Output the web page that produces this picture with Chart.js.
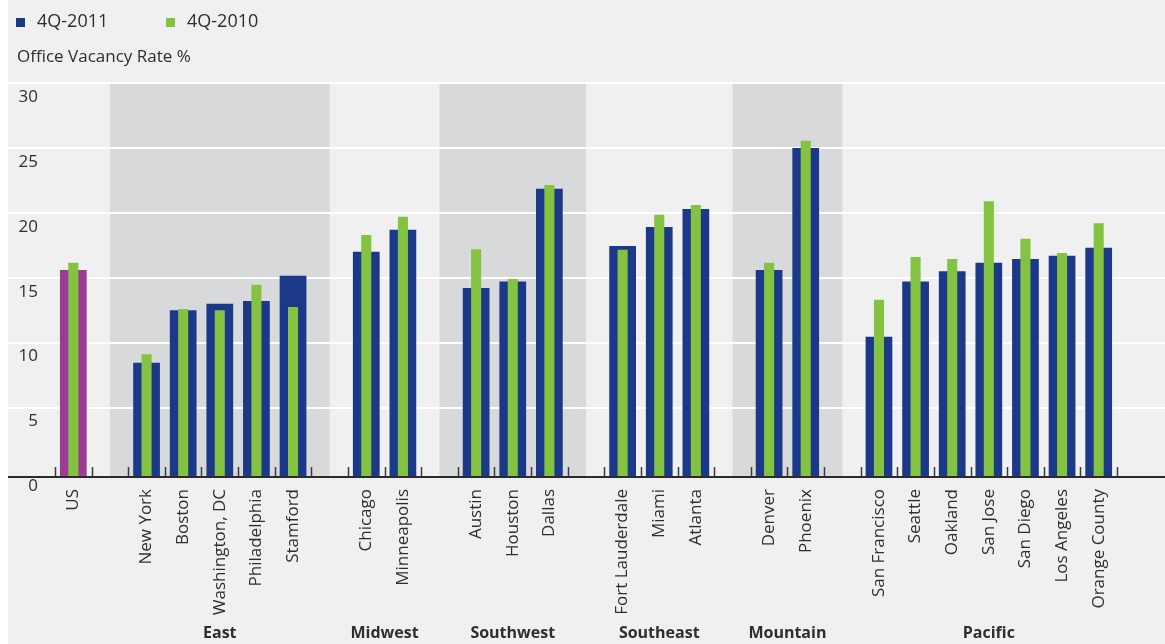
<!DOCTYPE html>
<html>
<head>
<meta charset="utf-8">
<title>Office Vacancy Rate</title>
<script src="https://cdn.jsdelivr.net/npm/chart.js@4/dist/chart.umd.min.js"></script>
<style>
    html, body { margin: 0; padding: 0; background: #ffffff; }
    #wrap { width: 1165px; height: 644px; }
</style>
</head>
<body>
<div id="wrap"><canvas id="vacancyChart" width="1165" height="644"></canvas></div>
<script>
'use strict';

// markets, '' = empty slot between regions
var markets = ['US', '',
    'New York', 'Boston', 'Washington, DC', 'Philadelphia', 'Stamford', '',
    'Chicago', 'Minneapolis', '',
    'Austin', 'Houston', 'Dallas', '',
    'Fort Lauderdale', 'Miami', 'Atlanta', '',
    'Denver', 'Phoenix', '',
    'San Francisco', 'Seattle', 'Oakland', 'San Jose', 'San Diego', 'Los Angeles', 'Orange County'];

var vacancy2011 = [15.6, null,
    8.45, 12.5, 13.0, 13.2, 15.15, null,
    17.0, 18.7, null,
    14.2, 14.7, 21.85, null,
    17.45, 18.9, 20.3, null,
    15.6, 25.0, null,
    10.45, 14.7, 15.5, 16.15, 16.45, 16.7, 17.3];

var vacancy2010 = [16.15, null,
    9.1, 12.6, 12.5, 14.45, 12.75, null,
    18.3, 19.7, null,
    17.2, 14.9, 22.15, null,
    17.15, 19.85, 20.6, null,
    16.15, 25.55, null,
    13.3, 16.6, 16.45, 20.9, 18.0, 16.9, 19.2];

// region name, first and last market index
var regions = [
    ['East', 2, 6],
    ['Midwest', 8, 9],
    ['Southwest', 11, 13],
    ['Southeast', 15, 17],
    ['Mountain', 19, 20],
    ['Pacific', 22, 28]
];
// shaded regions (every other one)
var shadedRegions = ['East', 'Southwest', 'Mountain'];

var yTicks = [0, 5, 10, 15, 20, 25, 30];

var navy = '#1b3889';
var green = '#84c341';
var magenta = '#9b3c93';
var textColor = '#2e2e2e';
var fontFamily = '"Open Sans", "DejaVu Sans", sans-serif';

var colors2011 = markets.map(function(m){
    return m === 'US' ? magenta : navy;
});


/*
 * background, shaded bands, white grid lines, axis, little ticks, region names, legend
 */
var decorations = {
    id: 'decorations',
    beforeDraw: function(chart) {
        var ctx = chart.ctx;
        var x = chart.scales.x;
        var y = chart.scales.y;
        var area = chart.chartArea;
        var slot = x.getPixelForValue(1) - x.getPixelForValue(0);

        ctx.save();
        ctx.fillStyle = '#ffffff';
        ctx.fillRect(0, 0, chart.width, chart.height);
        ctx.fillStyle = '#eff0ef';
        ctx.fillRect(8, 0, chart.width - 8, chart.height);

        //shaded bands go from middle of gap to middle of gap
        ctx.fillStyle = '#d8d9db';
        regions.forEach(function(r){
            if(shadedRegions.indexOf(r[0]) === -1) return;
            var left = x.getPixelForValue(r[1] - 1);
            var right = x.getPixelForValue(r[2] + 1);
            ctx.fillRect(left, area.top, right - left, area.bottom - area.top);
        });

        //white grid lines, full width
        ctx.strokeStyle = '#ffffff';
        ctx.lineWidth = 2;
        yTicks.forEach(function(v){
            if(v === 0) return;
            var py = Math.round(y.getPixelForValue(v));
            ctx.beginPath();
            ctx.moveTo(8, py);
            ctx.lineTo(chart.width, py);
            ctx.stroke();
        });
        ctx.restore();
    },
    afterDatasetsDraw: function(chart) {
        var ctx = chart.ctx;
        var x = chart.scales.x;
        var area = chart.chartArea;
        var slot = x.getPixelForValue(1) - x.getPixelForValue(0);

        ctx.save();
        //tick marks between every slot
        ctx.strokeStyle = '#3a3a3a';
        ctx.lineWidth = 1.5;
        for(var i = 0; i <= markets.length; i++){
            var px = Math.round(x.getPixelForValue(i) - slot / 2) + 0.5;
            ctx.beginPath();
            ctx.moveTo(px, area.bottom - 10);
            ctx.lineTo(px, area.bottom);
            ctx.stroke();
        }

        //axis line
        ctx.strokeStyle = '#2a2a2a';
        ctx.lineWidth = 2;
        ctx.beginPath();
        ctx.moveTo(8, area.bottom);
        ctx.lineTo(chart.width, area.bottom);
        ctx.stroke();
        ctx.restore();
    },
    afterDraw: function(chart) {
        var ctx = chart.ctx;
        var x = chart.scales.x;

        ctx.save();
        ctx.fillStyle = textColor;
        ctx.textBaseline = 'middle';

        //region names under the market labels
        ctx.font = 'bold 16px ' + fontFamily;
        ctx.textAlign = 'center';
        regions.forEach(function(r){
            var cx = (x.getPixelForValue(r[1]) + x.getPixelForValue(r[2])) / 2;
            ctx.fillText(r[0], cx, 633);
        });

        //legend
        ctx.textAlign = 'left';
        ctx.font = '18px ' + fontFamily;
        var legendX = [16, 166];
        chart.data.datasets.forEach(function(ds, i){
            ctx.fillStyle = ds.legendColor;
            ctx.fillRect(legendX[i], 18, 9, 9);
            ctx.fillStyle = textColor;
            ctx.fillText(ds.label, legendX[i] + 21, 22);
        });

        //axis title
        ctx.font = '17px ' + fontFamily;
        ctx.fillText('Office Vacancy Rate %', 17, 57);
        ctx.restore();
    }
};


var ctx = document.getElementById('vacancyChart').getContext('2d');

window.vacancyChart = new Chart(ctx, {
    type: 'bar',
    data: {
        labels: markets,
        datasets: [{
            label: '4Q-2011',
            data: vacancy2011,
            backgroundColor: colors2011,
            legendColor: navy,
            barPercentage: 0.73,
            categoryPercentage: 1,
            grouped: false,
            base: -0.35,
            order: 2
        }, {
            label: '4Q-2010',
            data: vacancy2010,
            backgroundColor: green,
            legendColor: green,
            barPercentage: 0.275,
            categoryPercentage: 1,
            grouped: false,
            base: -0.35,
            order: 1
        }]
    },
    options: {
        responsive: false,
        animation: false,
        layout: {
            padding: { top: 83, left: 8, right: 48, bottom: 0 }
        },
        plugins: {
            legend: { display: false },
            title: { display: false },
            tooltip: { enabled: false }
        },
        scales: {
            x: {
                grid: { display: false, drawTicks: false },
                border: { display: false },
                ticks: {
                    autoSkip: false,
                    minRotation: 90,
                    maxRotation: 90,
                    padding: 12,
                    color: textColor,
                    font: { family: fontFamily, size: 17 }
                },
                afterFit: function(scale){
                    scale.height = 167;
                }
            },
            y: {
                min: -0.35,
                max: 30,
                grid: { display: false, drawTicks: false },
                border: { display: false },
                afterBuildTicks: function(scale){
                    scale.ticks = yTicks.map(function(v){ return { value: v }; });
                },
                ticks: {
                    padding: 17,
                    labelOffset: 14,
                    color: textColor,
                    font: { family: fontFamily, size: 17 }
                },
                afterFit: function(scale){
                    scale.width = 47;
                }
            }
        }
    },
    plugins: [decorations]
});
</script>
</body>
</html>
